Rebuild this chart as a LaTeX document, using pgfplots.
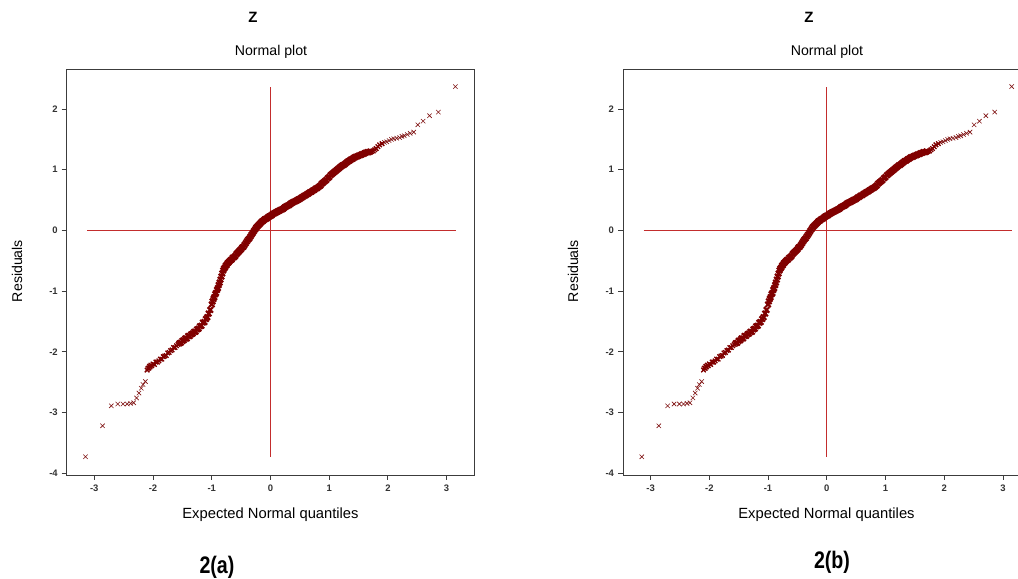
\documentclass[border=0pt]{standalone}
\usepackage{pgfplots}
\pgfplotsset{compat=1.18}
\usepackage{pgfplotstable}
\usetikzlibrary{calc}
\usepackage{fontspec}
\setmainfont{Liberation Sans}
\definecolor{mk}{RGB}{128,0,0}
\definecolor{rl}{RGB}{195,45,45}
\definecolor{ax}{RGB}{60,60,60}

\pgfplotstableread{
x y
-3.150 -3.73
-2.860 -3.22
-2.710 -2.89
-2.600 -2.86
-2.510 -2.86
-2.440 -2.86
-2.380 -2.85
-2.330 -2.84
-2.280 -2.76
-2.240 -2.68
-2.200 -2.60
-2.170 -2.54
-2.130 -2.49
-2.100 -2.30
-2.085 -2.27
-2.070 -2.27
-2.060 -2.24
-2.050 -2.25
-2.035 -2.22
-2.020 -2.23
-2.000 -2.20
-1.975 -2.21
-1.950 -2.17
-1.925 -2.17
-1.900 -2.15
-1.875 -2.12
-1.850 -2.12
-1.825 -2.08
-1.800 -2.07
-1.775 -2.06
-1.750 -2.02
-1.725 -2.01
-1.700 -1.98
-1.675 -1.97
-1.650 -1.93
-1.625 -1.93
-1.600 -1.90
-1.575 -1.88
-1.550 -1.86
-1.525 -1.85
-1.500 -1.82
-1.475 -1.81
-1.450 -1.78
-1.425 -1.78
-1.400 -1.74
-1.375 -1.74
-1.350 -1.71
-1.325 -1.70
-1.300 -1.67
-1.275 -1.67
-1.250 -1.63
-1.225 -1.62
-1.200 -1.58
-1.175 -1.57
-1.150 -1.52
-1.125 -1.51
-1.100 -1.46
-1.075 -1.43
-1.050 -1.37
-1.025 -1.31
-1.000 -1.22
-0.985 -1.17
-0.970 -1.13
-0.955 -1.10
-0.940 -1.05
-0.925 -1.03
-0.910 -0.98
-0.895 -0.95
-0.880 -0.90
-0.865 -0.86
-0.850 -0.81
-0.835 -0.76
-0.820 -0.71
-0.805 -0.66
-0.790 -0.63
-0.775 -0.61
-0.760 -0.58
-0.745 -0.57
-0.730 -0.54
-0.715 -0.53
-0.700 -0.51
-0.680 -0.49
-0.660 -0.48
-0.640 -0.45
-0.620 -0.44
-0.600 -0.42
-0.580 -0.39
-0.560 -0.37
-0.540 -0.35
-0.520 -0.33
-0.500 -0.31
-0.480 -0.28
-0.460 -0.27
-0.440 -0.24
-0.420 -0.21
-0.400 -0.18
-0.380 -0.15
-0.360 -0.13
-0.340 -0.10
-0.320 -0.07
-0.300 -0.04
-0.280 -0.01
-0.260 0.02
-0.240 0.05
-0.220 0.07
-0.200 0.09
-0.180 0.11
-0.160 0.13
-0.140 0.15
-0.120 0.16
-0.100 0.18
-0.080 0.19
-0.060 0.20
-0.040 0.22
-0.020 0.23
0.000 0.24
0.020 0.25
0.040 0.27
0.060 0.28
0.080 0.29
0.100 0.30
0.120 0.31
0.140 0.32
0.160 0.33
0.180 0.34
0.200 0.35
0.220 0.36
0.240 0.38
0.260 0.39
0.280 0.40
0.300 0.41
0.320 0.42
0.340 0.44
0.360 0.45
0.380 0.46
0.400 0.47
0.420 0.48
0.440 0.49
0.460 0.50
0.480 0.51
0.500 0.52
0.525 0.54
0.550 0.55
0.575 0.57
0.600 0.58
0.625 0.60
0.650 0.61
0.675 0.63
0.700 0.64
0.725 0.66
0.750 0.67
0.775 0.69
0.800 0.70
0.825 0.72
0.850 0.74
0.875 0.77
0.900 0.79
0.925 0.81
0.950 0.83
0.975 0.86
1.000 0.88
1.025 0.91
1.050 0.93
1.075 0.95
1.100 0.97
1.125 0.99
1.150 1.01
1.175 1.03
1.200 1.05
1.225 1.07
1.250 1.08
1.275 1.10
1.300 1.12
1.325 1.14
1.350 1.15
1.375 1.17
1.400 1.18
1.425 1.20
1.450 1.21
1.475 1.22
1.500 1.23
1.525 1.24
1.550 1.25
1.575 1.26
1.600 1.27
1.625 1.28
1.650 1.29
1.675 1.29
1.700 1.30
1.725 1.30
1.750 1.31
1.775 1.33
1.800 1.35
1.830 1.38
1.860 1.41
1.900 1.43
1.940 1.45
1.980 1.46
2.020 1.48
2.060 1.50
2.100 1.51
2.150 1.52
2.200 1.53
2.240 1.55
2.280 1.56
2.330 1.58
2.380 1.60
2.440 1.62
2.510 1.74
2.600 1.80
2.710 1.89
2.860 1.95
3.150 2.37
}\resid

\pgfplotsset{qq/.style={
  scale only axis, width=407.5bp, height=406bp,
  anchor=south west,
  xmin=-3.47, xmax=3.47, ymin=-4.03, ymax=2.66,
  xtick={-3,-2,-1,0,1,2,3}, ytick={-4,-3,-2,-1,0,1,2},
  tick align=outside, tick pos=left, major tick length=5bp,
  axis line style={ax, line width=0.9bp},
  every tick/.style={ax, line width=0.8bp},
  tick label style={font=\bfseries\fontsize{9.5}{10}\selectfont, text=black!80},
  /pgf/number format/assume math mode=true,
  xticklabel style={yshift=-1bp},
  yticklabel style={xshift=-0.5bp},
}}

\newcommand{\qqplots}{%
  \addplot[only marks, mark=x, mark size=3.1bp, mk!85!gray, line width=0.6bp] table {\resid};
  \addplot[only marks, mark=x, mark size=3.8bp, mk, line width=2.1bp, restrict x to domain=-1.55:1.72] table {\resid};
  \addplot[only marks, mark=x, mark size=3.1bp, mk, line width=1.3bp, restrict x to domain=-2.1:1.9] table {\resid};
  \addplot[rl, line width=0.8bp] coordinates {(-3.12,0) (3.16,0)};
  \addplot[rl, line width=0.8bp] coordinates {(0,-3.73) (0,2.36)};
}

\begin{document}
\begin{tikzpicture}
\useasboundingbox (0bp,0bp) rectangle (1018bp,579bp);
\clip (0bp,0bp) rectangle (1018bp,579bp);
\fill[white] (0bp,0bp) rectangle (1018bp,579bp);

\begin{axis}[qq, at={(66.7bp,104bp)}]
\qqplots
\end{axis}
\begin{axis}[qq, at={(623bp,104bp)}]
\qqplots
\end{axis}

\foreach \dx in {0bp,556bp}{
  \node[font=\bfseries\fontsize{15}{16}\selectfont] at ($(253bp,562bp)+(\dx,0)$) {Z};
  \node[font=\fontsize{14.2}{16}\selectfont] at ($(271bp,527bp)+(\dx,0)$) {Normal plot};
  \node[font=\fontsize{14.2}{16}\selectfont, rotate=90] at ($(17bp,308bp)+(\dx,0)$) {Residuals};
  \node[font=\fontsize{14.8}{16}\selectfont] at ($(270.5bp,64bp)+(\dx,0)$) {Expected Normal quantiles};
}
\node[font=\bfseries\fontsize{24}{26}\selectfont] at (217bp,12bp) {\scalebox{0.82}[1]{2(a)}};
\node[font=\bfseries\fontsize{24}{26}\selectfont] at (832bp,17bp) {\scalebox{0.82}[1]{2(b)}};
\end{tikzpicture}
\end{document}
